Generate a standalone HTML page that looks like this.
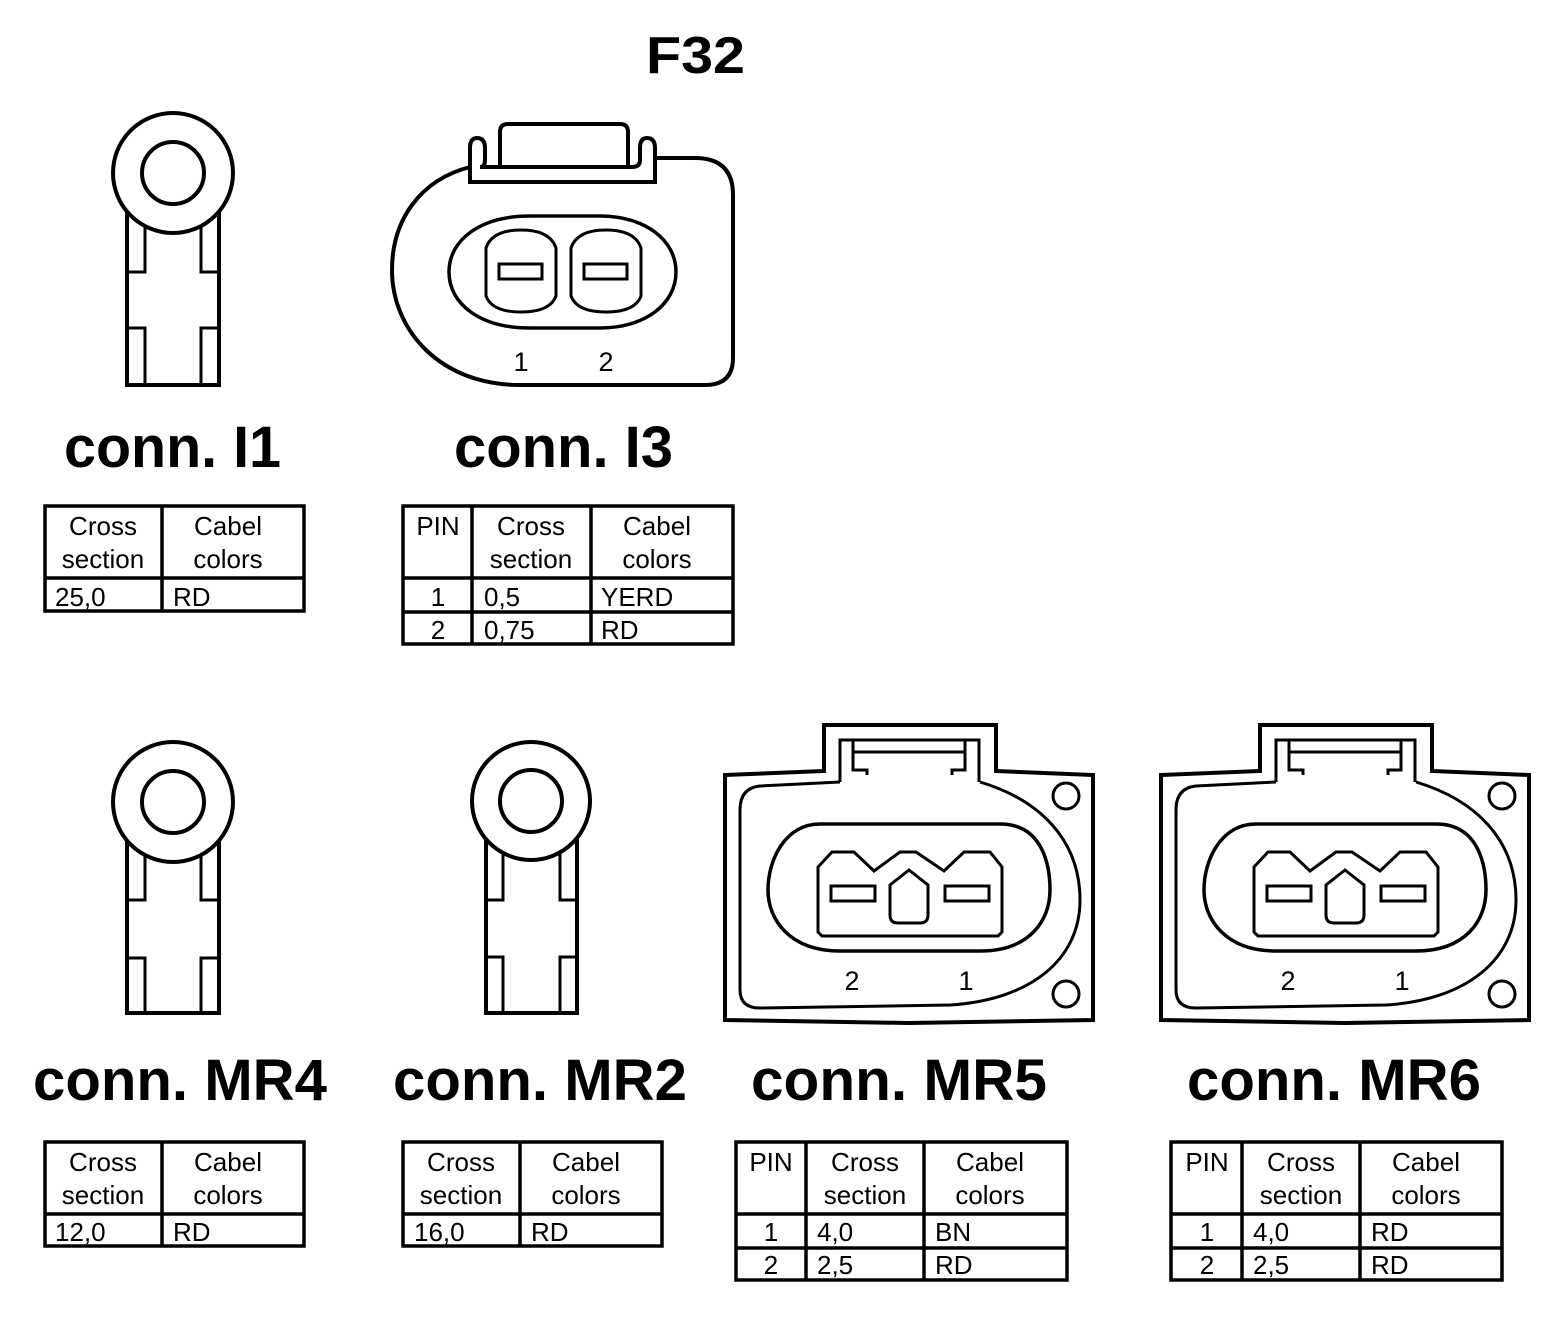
<!DOCTYPE html>
<html><head><meta charset="utf-8"><style>
html,body{margin:0;padding:0;background:#fff;}
svg{display:block;}
text{font-family:"Liberation Sans",Arial,sans-serif;fill:#000;}
.t{font-weight:bold;font-size:58px;}
.c{font-size:26px;}
</style></head><body>
<svg width="1568" height="1318" viewBox="0 0 1568 1318" xmlns="http://www.w3.org/2000/svg">
<g fill="none" stroke="#000" stroke-width="4">

<!-- I1 ring terminal -->
<rect x="127" y="205" width="92" height="180"/>
<path d="M145 215 V272 H127 M201 215 V272 H219 M127 328 H145 V385 M219 328 H201 V385" stroke-width="3"/>
<circle cx="173" cy="173" r="60" fill="#fff"/>
<circle cx="173" cy="173" r="31"/>

<!-- MR4 ring -->
<rect x="127" y="835" width="92" height="178"/>
<path d="M145 845 V900 H127 M201 845 V900 H219 M127 958 H145 V1013 M219 958 H201 V1013" stroke-width="3"/>
<circle cx="173" cy="802" r="60" fill="#fff"/>
<circle cx="173" cy="802" r="31"/>

<!-- MR2 ring -->
<rect x="486" y="835" width="91" height="178"/>
<path d="M503 845 V900 H486 M560 845 V900 H577 M486 957 H503 V1013 M577 957 H560 V1013" stroke-width="3"/>
<circle cx="531" cy="801" r="59" fill="#fff"/>
<circle cx="531" cy="801" r="31"/>

<!-- I3 connector -->
<path d="M470 167 C420 180 392 220 392 270 C392 330 440 385 520 385 H705 Q733 385 733 358 V195 Q733 158 695 158 H655"/>
<path d="M470 182 H655 V148 Q655 138 647 138 Q640 138 640 148 V160 Q640 167 632 167 H480 Q485 167 485 160 V148 Q485 138 477 138 Q470 138 470 148 Z"/>
<path d="M500 165 V132 Q500 124 508 124 H620 Q628 124 628 132 V165"/>
<path d="M530 216 H600 C645 216 676 240 676 272 C676 304 645 328 600 328 H530 C480 328 449 304 449 272 C449 240 480 216 530 216 Z" stroke-width="3.5"/>
<path d="M486 248 Q492 230 521 230 Q550 230 556 248 V296 Q550 312 521 312 Q492 312 486 296 Z" stroke-width="3"/>
<path d="M571 248 Q577 230 606 230 Q635 230 641 248 V296 Q635 312 606 312 Q577 312 571 296 Z" stroke-width="3"/>
<rect x="499" y="264" width="43" height="15" stroke-width="3"/>
<rect x="584" y="264" width="43" height="15" stroke-width="3"/>

<!-- MR5 connector -->
<g id="mr">
<path d="M725 775 L824 771 V725 H996 V771 L1093 775 V1020 L909 1023 L725 1020 Z"/>
<path d="M840 782 V740 H979 V782 M853 740 V770 H867 V775 M965 740 V770 H952 V775 M853 752 H965" stroke-width="3"/>
<path d="M840 782 L760 786 Q740 788 740 810 V990 Q740 1008 760 1008 L950 1005 C1030 1000 1080 960 1080 900 C1080 840 1040 800 980 782" stroke-width="3"/>
<path d="M820 824 H1000 C1045 824 1050 870 1050 890 C1050 920 1030 951 980 951 H840 C790 951 768 920 768 890 C768 860 785 824 820 824 Z" stroke-width="3.5"/>
<path d="M818 867 L832 852 H854 L874 871 L900 852 H916 L944 871 L964 852 H990 L1002 867 V932 L998 936 H822 L818 932 Z" stroke-width="3"/>
<rect x="831" y="886" width="44" height="15" stroke-width="3"/>
<rect x="945" y="886" width="44" height="15" stroke-width="3"/>
<path d="M909 870 L928 885 V915 Q928 923 920 923 H898 Q890 923 890 915 V885 Z" stroke-width="3"/>
<circle cx="1066" cy="796" r="13" stroke-width="3"/>
<circle cx="1066" cy="994" r="13" stroke-width="3"/>
</g>
<use href="#mr" transform="translate(436,0)"/>

<!-- tables -->
<g stroke-width="3.5">
<rect x="45" y="506" width="259" height="105"/>
<path d="M162 506 V611 M45 578 H304"/>
<rect x="403" y="506" width="330" height="138"/>
<path d="M472 506 V644 M591 506 V644 M403 578 H733 M403 612 H733"/>
<rect x="45" y="1142" width="259" height="104"/>
<path d="M162 1142 V1246 M45 1214 H304"/>
<rect x="403" y="1142" width="259" height="104"/>
<path d="M520 1142 V1246 M403 1214 H662"/>
<rect x="736" y="1142" width="331" height="138"/>
<path d="M806 1142 V1280 M924 1142 V1280 M736 1214 H1067 M736 1248 H1067"/>
<rect x="1171" y="1142" width="331" height="138"/>
<path d="M1242 1142 V1280 M1360 1142 V1280 M1171 1214 H1502 M1171 1248 H1502"/>
</g>
</g>

<!-- titles -->
<text x="646" y="73" style="font-weight:bold;font-size:52px" textLength="99" lengthAdjust="spacingAndGlyphs">F32</text>
<text class="t" x="64" y="467" textLength="217" lengthAdjust="spacingAndGlyphs">conn. I1</text>
<text class="t" x="454" y="467" textLength="219" lengthAdjust="spacingAndGlyphs">conn. I3</text>
<text class="t" x="33" y="1100" textLength="294" lengthAdjust="spacingAndGlyphs">conn. MR4</text>
<text class="t" x="393" y="1100" textLength="294" lengthAdjust="spacingAndGlyphs">conn. MR2</text>
<text class="t" x="751" y="1100" textLength="296" lengthAdjust="spacingAndGlyphs">conn. MR5</text>
<text class="t" x="1187" y="1100" textLength="294" lengthAdjust="spacingAndGlyphs">conn. MR6</text>

<!-- pin labels -->
<g class="c" style="font-size:27px" text-anchor="middle">
<text x="521" y="371">1</text><text x="606" y="371">2</text>
<text x="852" y="990">2</text><text x="966" y="990">1</text>
<text x="1288" y="990">2</text><text x="1402" y="990">1</text>
</g>

<!-- table text -->
<g class="c" text-anchor="middle">
<text x="103" y="535">Cross</text><text x="103" y="568">section</text>
<text x="228" y="535">Cabel</text><text x="228" y="568">colors</text>
<text x="438" y="535">PIN</text>
<text x="531" y="535">Cross</text><text x="531" y="568">section</text>
<text x="657" y="535">Cabel</text><text x="657" y="568">colors</text>
<text x="438" y="606">1</text><text x="438" y="639">2</text>

<text x="103" y="1171">Cross</text><text x="103" y="1204">section</text>
<text x="228" y="1171">Cabel</text><text x="228" y="1204">colors</text>
<text x="461" y="1171">Cross</text><text x="461" y="1204">section</text>
<text x="586" y="1171">Cabel</text><text x="586" y="1204">colors</text>

<text x="771" y="1171">PIN</text>
<text x="865" y="1171">Cross</text><text x="865" y="1204">section</text>
<text x="990" y="1171">Cabel</text><text x="990" y="1204">colors</text>
<text x="771" y="1241">1</text><text x="771" y="1274">2</text>

<text x="1207" y="1171">PIN</text>
<text x="1301" y="1171">Cross</text><text x="1301" y="1204">section</text>
<text x="1426" y="1171">Cabel</text><text x="1426" y="1204">colors</text>
<text x="1207" y="1241">1</text><text x="1207" y="1274">2</text>
</g>
<g class="c">
<text x="55" y="606">25,0</text><text x="173" y="606">RD</text>
<text x="484" y="606">0,5</text><text x="601" y="606">YERD</text>
<text x="484" y="639">0,75</text><text x="601" y="639">RD</text>
<text x="55" y="1241">12,0</text><text x="173" y="1241">RD</text>
<text x="414" y="1241">16,0</text><text x="531" y="1241">RD</text>
<text x="817" y="1241">4,0</text><text x="935" y="1241">BN</text>
<text x="817" y="1274">2,5</text><text x="935" y="1274">RD</text>
<text x="1253" y="1241">4,0</text><text x="1371" y="1241">RD</text>
<text x="1253" y="1274">2,5</text><text x="1371" y="1274">RD</text>
</g>
</svg>
</body></html>
